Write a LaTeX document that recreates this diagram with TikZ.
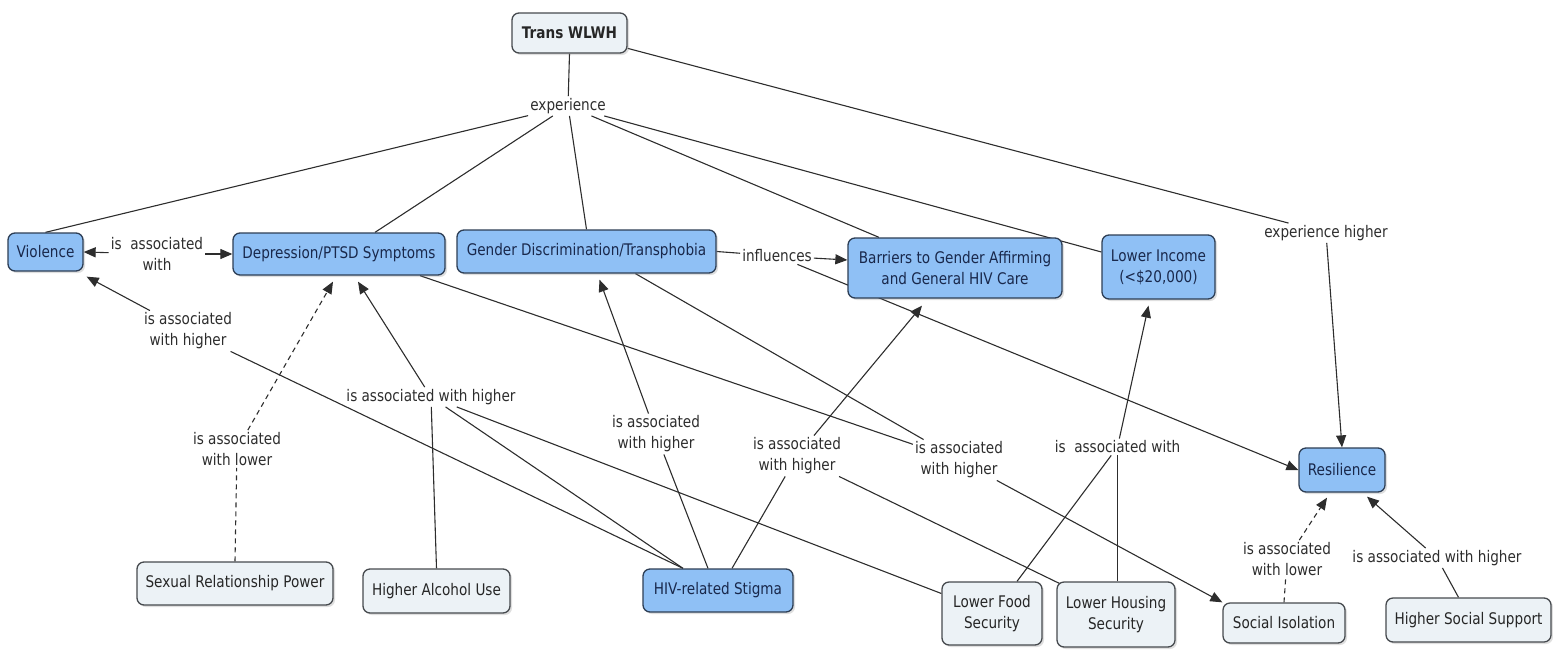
\documentclass[tikz,border=0pt]{standalone}
\usepackage{fontspec}
\setmainfont{DejaVu Sans}[FakeStretch=0.85]
\usetikzlibrary{arrows.meta,shadows,backgrounds}
\definecolor{nodeblue}{RGB}{143,192,245}
\definecolor{nodegray}{RGB}{236,242,246}
\definecolor{edgeblue}{RGB}{45,62,85}
\definecolor{edgegray}{RGB}{70,74,78}
\definecolor{textblue}{RGB}{25,40,75}
\definecolor{linkgray}{RGB}{45,45,45}
\begin{document}
\begin{tikzpicture}[x=1pt,y=-1pt,
  concept/.style={draw=edgeblue, line width=1.3pt, rounded corners=7pt, fill=nodeblue,
    text=textblue, align=center, inner sep=0pt, font=\fontsize{16}{21}\selectfont,
    drop shadow={opacity=0.25, shadow xshift=2pt, shadow yshift=-2pt}},
  gconcept/.style={concept, fill=nodegray, draw=edgegray, text=black!85},
  lbl/.style={align=center, inner sep=2pt, text=linkgray, font=\fontsize{16}{21}\selectfont},
  conn/.style={draw=linkgray, line width=1.1pt},
  arr/.style={conn, -{Triangle[length=12pt,width=10pt]}},
  dconn/.style={conn, dash pattern=on 5pt off 4pt},
  darr/.style={dconn, -{Triangle[length=12pt,width=10pt]}},
]
\useasboundingbox (0,0) rectangle (1553,654);

% concepts
\node[gconcept, minimum width=115pt, minimum height=40pt, font={\fontsize{16}{21}\selectfont\bfseries}] (trans) at (569.5,33) {Trans WLWH};
\node[concept, minimum width=75pt, minimum height=38pt] (viol) at (45.5,252) {Violence};
\node[concept, minimum width=212pt, minimum height=42pt] (dep) at (339,254) {Depression/PTSD Symptoms};
\node[concept, minimum width=259pt, minimum height=43pt] (gd) at (586.5,251.5) {Gender Discrimination/Transphobia};
\node[concept, minimum width=214pt, minimum height=60pt] (bar) at (955,268) {Barriers to Gender Affirming\\and General HIV Care};
\node[concept, minimum width=113pt, minimum height=64pt] (inc) at (1158.5,267) {Lower Income\\(<\$20,000)};
\node[concept, minimum width=86pt, minimum height=44pt] (res) at (1342,470) {Resilience};
\node[gconcept, minimum width=196pt, minimum height=43pt] (srp) at (235,583.5) {Sexual Relationship Power};
\node[gconcept, minimum width=147pt, minimum height=44pt] (alc) at (436.5,591) {Higher Alcohol Use};
\node[concept, minimum width=150pt, minimum height=43pt] (hiv) at (718,590.5) {HIV-related Stigma};
\node[gconcept, minimum width=100pt, minimum height=63pt] (food) at (992,613.5) {Lower Food\\Security};
\node[gconcept, minimum width=118pt, minimum height=65pt] (hous) at (1116,614.5) {Lower Housing\\Security};
\node[gconcept, minimum width=122pt, minimum height=40pt] (soc) at (1284,623) {Social Isolation};
\node[gconcept, minimum width=165pt, minimum height=44pt] (hss) at (1468.5,620) {Higher Social Support};

% linking phrases
\node[lbl] (lexp) at (568,106) {experience};
\node[lbl] (lexph) at (1326,233) {experience higher};
\node[lbl] (lvd) at (157,254) {is\ \ associated\\with};
\node[lbl] (lvh) at (188,331) {is associated\\with higher};
\node[lbl] (lsrp) at (237,449) {is associated\\with lower};
\node[lbl] (ldep) at (431,397) {is associated with higher};
\node[lbl] (lgd) at (656,434) {is associated\\with higher};
\node[lbl] (lbar) at (797,456) {is associated\\with higher};
\node[lbl] (lsoc) at (959,460) {is associated\\with higher};
\node[lbl] (linf) at (777,256) {influences};
\node[lbl] (linc) at (1117.5,447) {is\ \ associated with};
\node[lbl] (lres) at (1287,559) {is associated\\with lower};
\node[lbl] (lhss) at (1437,558) {is associated with higher};

\begin{pgfonlayer}{background}
\draw[conn] (trans.south) -- (lexp);
\draw[conn] (lexp) -- (viol.north);
\draw[conn] (lexp) -- ([xshift=36pt]dep.north);
\draw[conn] (lexp) -- (gd.north);
\draw[conn] (lexp) -- ([xshift=-76pt]bar.north);
\draw[conn] (lexp) -- ([yshift=15pt]inc.west);
\draw[conn] (trans) -- (lexph);
\draw[arr] (lexph) -- (res.north);

\draw[arr] (lvd) -- (viol.east);
\draw[arr] (lvd) -- (dep.west);

\draw[arr] (lvh) -- ([xshift=3pt,yshift=-5pt]viol.south east);
\draw[conn] ([xshift=-35pt]hiv.north) -- (lvh);

\draw[dconn] (srp.north) -- (lsrp);
\draw[darr] (lsrp) -- ([xshift=-6pt,yshift=-6pt]dep.south);

\draw[conn] (alc.north) -- (ldep);
\draw[conn] ([xshift=-35pt]hiv.north) -- (ldep);
\draw[conn] ([yshift=20pt]food.west) -- (ldep);
\draw[arr] (ldep) -- ([xshift=19pt,yshift=-6pt]dep.south);

\draw[conn] ([xshift=-10pt]hiv.north) -- (lgd);
\draw[arr] (lgd) -- ([xshift=13pt,yshift=-6pt]gd.south);

\draw[conn] ([xshift=14pt]hiv.north) -- (lbar);
\draw[conn] ([xshift=5pt,yshift=-3pt]hous.north west) -- (lbar);
\draw[arr] (lbar) -- ([xshift=-33pt,yshift=-7pt]bar.south);

\draw[conn] ([xshift=81pt]dep.south) -- (lsoc);
\draw[conn] ([xshift=49pt]gd.south) -- (lsoc);
\draw[arr] (lsoc) -- (soc.north west);

\draw[conn] ([xshift=25pt]food.north) -- (linc);
\draw[conn, line width=1pt] ([xshift=1.5pt]hous.north) -- (linc.south);
\draw[arr] (linc) -- ([xshift=-10pt,yshift=-6pt]inc.south);

\draw[conn] (gd.east) -- (linf);
\draw[arr] (linf) -- ([yshift=8pt]bar.west);
\draw[arr] (linf) -- (res.west);

\draw[dconn] (soc.north) -- (lres);
\draw[darr] (lres) -- ([xshift=-15pt,yshift=-5pt]res.south);

\draw[conn] ([xshift=-10pt]hss.north) -- (lhss);
\draw[arr] (lhss) -- ([xshift=25pt,yshift=-4pt]res.south);
\end{pgfonlayer}
\end{tikzpicture}
\end{document}
